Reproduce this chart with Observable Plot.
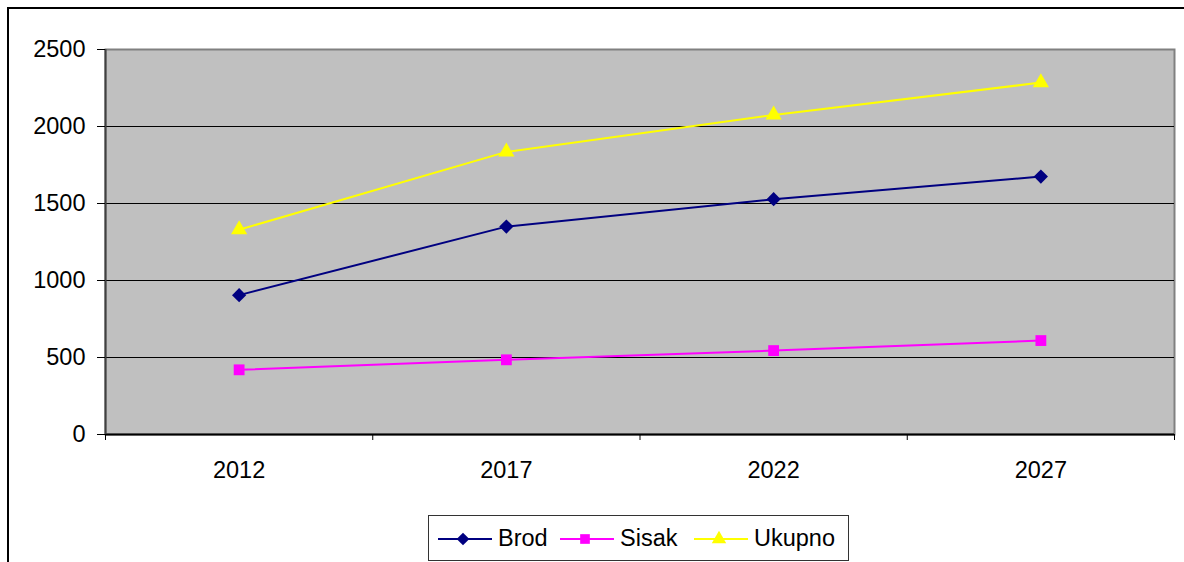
<!DOCTYPE html>
<html>
<head>
<meta charset="utf-8">
<script src="https://cdn.jsdelivr.net/npm/d3@7"></script>
<script src="https://cdn.jsdelivr.net/npm/@observablehq/plot@0.6"></script>
<style>
  html, body { margin: 0; padding: 0; background: #fff; overflow: hidden; width: 1184px; height: 562px; }
  body { position: relative; font-family: "Liberation Sans", Arial, sans-serif; }
  #frame { position: absolute; left: 7px; top: 7px; width: 1200px; height: 600px; border-left: 2px solid #000; border-top: 2px solid #000; }
  #chart { position: absolute; left: 0; top: 0; }
  #legend { position: absolute; left: 428px; top: 515px; width: 421px; height: 46px; border: 1px solid #333; background: #fff; box-sizing: border-box; }
  .item { position: absolute; top: 0; height: 45px; display: flex; align-items: center; font-size: 23.5px; color: #000; }
  .item svg { margin-right: 6px; }
</style>
</head>
<body>
<div id="frame"></div>
<div id="chart"></div>
<div id="legend"></div>
<script>
const years = [2012, 2017, 2022, 2027];
const brod = [905, 1350, 1528, 1675];
const sisak = [420, 485, 545, 610];
const ukupno = [1330, 1835, 2075, 2285];
const yTicks = [0, 500, 1000, 1500, 2000, 2500];
const seriesNames = ["Brod", "Sisak", "Ukupno"];
const seriesColors = ["#000080", "#FF00FF", "#FFFF00"];
const seriesSymbols = ["diamond2", "square", "triangle"];
const seriesR = [6.4, 6.1, 6.0];

const seriesValues = [brod, sisak, ukupno];
const step = years[1] - years[0];
const boundaries = d3.range(years.length + 1).map(i => years[0] - step / 2 + i * step);

const marks = [
  Plot.frame({fill: "#C0C0C0", stroke: "#808080", strokeWidth: 2}),
  Plot.ruleY(yTicks.filter(v => v > 0 && v < 2500), {stroke: "#000", strokeWidth: 1}),
  Plot.ruleY([0], {stroke: "#000", strokeWidth: 2}),
  Plot.ruleX([boundaries[0]], {stroke: "#404040", strokeWidth: 2}),
  Plot.axisY({ticks: yTicks, label: null, tickSize: 8, tickPadding: 12, fontSize: 23.5, tickFormat: d => String(d), stroke: "#000"}),
  Plot.axisX({ticks: years, label: null, tickSize: 0, tickPadding: 27, fontSize: 23.5, tickFormat: d => String(d)}),
  Plot.axisX({ticks: boundaries, label: null, tickSize: 6, tickFormat: () => "", stroke: "#000"})
];
seriesNames.forEach((name, i) => {
  const data = years.map((y, j) => ({year: y, value: seriesValues[i][j]}));
  marks.push(Plot.line(data, {x: "year", y: "value", stroke: seriesColors[i], strokeWidth: 2}));
  marks.push(Plot.dot(data, {x: "year", y: "value", symbol: () => seriesSymbols[i], fill: seriesColors[i], stroke: "none", r: seriesR[i]}));
});

const plot = Plot.plot({
  width: 1184,
  height: 500,
  marginLeft: 105,
  marginTop: 49,
  marginRight: 10,
  marginBottom: 66,
  style: {fontFamily: "'Liberation Sans', Arial, sans-serif", color: "#000", background: "transparent", overflow: "visible"},
  x: {domain: [boundaries[0], boundaries[boundaries.length - 1]], axis: null},
  y: {domain: [0, 2500], axis: null},
  marks
});
document.getElementById("chart").appendChild(plot);

// Legend
const legend = document.getElementById("legend");
const itemLefts = [9, 131, 265];
const d3Symbols = {diamond2: d3.symbolDiamond2, square: d3.symbolSquare, triangle: d3.symbolTriangle};
seriesNames.forEach((name, i) => {
  const item = document.createElement("div");
  item.className = "item";
  item.style.left = itemLefts[i] + "px";
  const sym = d3.symbol(d3Symbols[seriesSymbols[i]], Math.PI * seriesR[i] * seriesR[i] * 0.8)();
  item.innerHTML = `<svg width="54" height="20" viewBox="0 0 54 20"><line x1="0" x2="54" y1="10" y2="10" stroke="${seriesColors[i]}" stroke-width="2"/><path d="${sym}" transform="translate(25,10)" fill="${seriesColors[i]}"/></svg><span>${name}</span>`;
  legend.appendChild(item);
});
</script>
</body>
</html>
